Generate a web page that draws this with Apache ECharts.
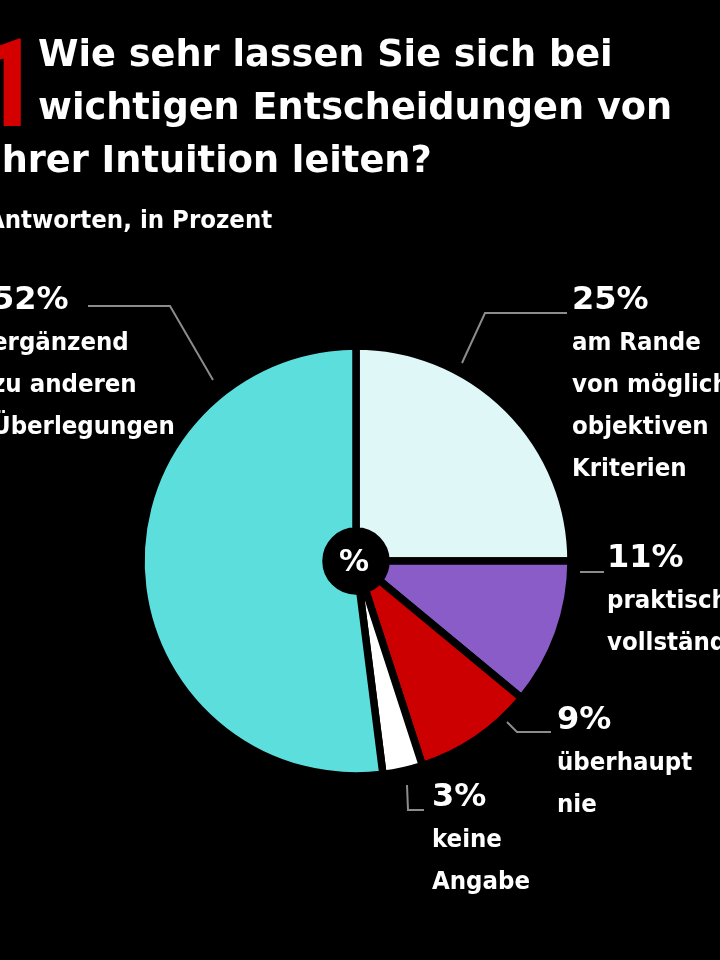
<!DOCTYPE html>
<html><head><meta charset="utf-8">
<script src="https://cdn.jsdelivr.net/npm/echarts@6/dist/echarts.min.js"></script>
<style>html,body{margin:0;padding:0;background:#000}#c{width:720px;height:960px}</style>
</head><body><div id="c"></div>
<script>
const questionNumber = '1';
const titleLines = ['Wie sehr lassen Sie sich bei', 'wichtigen Entscheidungen von', 'Ihrer Intuition leiten?'];
const subtitle = 'Antworten, in Prozent';
const categories = ['am Rande von möglichst objektiven Kriterien', 'praktisch vollständig', 'überhaupt nie', 'keine Angabe', 'ergänzend zu anderen Überlegungen'];
const labelLines = [['am Rande', 'von möglichst', 'objektiven', 'Kriterien'], ['praktisch', 'vollständig'], ['überhaupt', 'nie'], ['keine', 'Angabe'], ['ergänzend', 'zu anderen', 'Überlegungen']];
const values = [25, 11, 9, 3, 52];
const colors = ['#E0F7F8', '#8A5CC8', '#CC0000', '#FFFFFF', '#5CDEDD'];
const centerText = '%';

// label placement (layout only)
const labelPos = [
  {x: 572, y: 280, line: [[462, 363], [485, 313], [567, 313]]},
  {x: 607, y: 538, line: [[580, 572], [592, 572], [604, 572]]},
  {x: 557, y: 700, line: [[507, 722], [517, 732], [551, 732]]},
  {x: 432, y: 777, line: [[407, 785], [408, 810], [424, 810]]},
  {x: -8, y: 280, line: [[213, 380], [170, 306], [88, 306]]}
];

const chart = echarts.init(document.getElementById('c'), null, {renderer: 'canvas'});
const titleFont = 'DejaVu Sans';
const condFont = 'DejaVu Sans Condensed';
chart.setOption({
  backgroundColor: '#000',
  animation: false,
  graphic: [
    {type: 'text', x: -27, y: 95, style: {text: questionNumber, fill: '#D40000', font: 'bold 122px Roboto', verticalAlign: 'middle'}},
    {type: 'text', x: 38, y: 56, style: {text: titleLines[0], fill: '#fff', font: 'bold 36.7px "' + titleFont + '"', verticalAlign: 'middle'}},
    {type: 'text', x: 38, y: 109, style: {text: titleLines[1], fill: '#fff', font: 'bold 36.7px "' + titleFont + '"', verticalAlign: 'middle'}},
    {type: 'text', x: -12, y: 162, style: {text: titleLines[2], fill: '#fff', font: 'bold 36.7px "' + titleFont + '"', verticalAlign: 'middle'}},
    {type: 'text', x: -13, y: 221, style: {text: subtitle, fill: '#fff', font: 'bold 25.5px "' + condFont + '"', verticalAlign: 'middle'}},
    {type: 'text', x: 354, y: 563, z: 100, style: {text: centerText, fill: '#fff', font: 'bold 30px "' + titleFont + '"', align: 'center', verticalAlign: 'middle'}}
  ],
  series: [{
    type: 'pie',
    center: [356, 561],
    radius: [30, 215],
    startAngle: 90,
    clockwise: true,
    avoidLabelOverlap: false,
    silent: true,
    itemStyle: {borderColor: '#000', borderWidth: 7.5},
    data: values.map((v, i) => ({
      value: v,
      name: categories[i],
      itemStyle: {color: colors[i]}
    })),
    label: {
      show: true,
      position: 'outside',
      formatter: (p) => '{p|' + p.value + '%}\n' + labelLines[p.dataIndex].map(t => '{t|' + t + '}').join('\n'),
      rich: {
        p: {fontFamily: titleFont, fontWeight: 'bold', fontSize: 32, lineHeight: 42, color: '#fff'},
        t: {fontFamily: condFont, fontWeight: 'bold', fontSize: 25.5, lineHeight: 42, color: '#fff'}
      }
    },
    labelLine: {show: true, lineStyle: {color: '#8c8c8c', width: 2}},
    labelLayout: (params) => {
      const lp = labelPos[params.dataIndex];
      return {x: lp.x, y: lp.y, align: 'left', verticalAlign: 'top', labelLinePoints: lp.line};
    }
  }]
});
</script>
</body></html>
